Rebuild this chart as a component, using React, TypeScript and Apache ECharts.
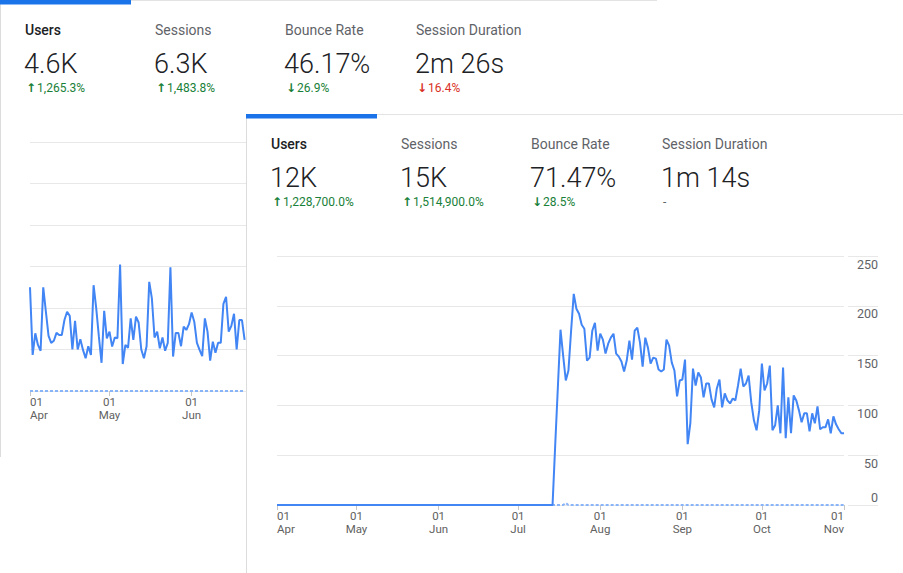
import React, { useEffect, useRef } from "react";
import * as echarts from "echarts";

// ---------- categories (daily, 01 Apr .. 01 Nov) ----------
const monthNames = ["Apr", "May", "Jun", "Jul", "Aug", "Sep", "Oct", "Nov"];
const monthLengths = [30, 31, 30, 31, 31, 30, 31, 1];
const dates: string[] = [];
monthNames.forEach((m, mi) => {
  for (let d = 1; d <= monthLengths[mi]; d++) {
    dates.push(`${d < 10 ? "0" + d : d} ${m}`);
  }
});

// ---------- back card (partially hidden) ----------
const backTitles = ["Users", "Sessions", "Bounce Rate", "Session Duration"];
const backValues = ["4.6K", "6.3K", "46.17%", "2m 26s"];
const backArrows = ["↑", "↑", "↓", "↓"];
const backChanges = ["1,265.3%", "1,483.8%", "26.9%", "16.4%"];
const backChangeKinds = ["good", "good", "good", "bad"];

// daily users, 01 Apr .. 21 Jun (rest is hidden behind the front card)
const backUsers = [
  25.0, 8.7, 13.9, 11.1, 9.7, 25.0, 19.1, 13.3, 11.6, 12.1,
  14.0, 13.5, 13.5, 17.1, 19.1, 18.1, 10.0, 16.9, 10.0, 12.5,
  9.9, 7.9, 10.8, 8.7, 25.5, 19.9, 13.1, 6.8, 19.3, 12.7,
  14.3, 10.7, 12.9, 12.7, 30.5, 6.5, 11.1, 10.4, 17.5, 12.3,
  17.9, 16.5, 10.0, 7.9, 10.8, 26.3, 22.3, 12.9, 14.3, 10.3,
  12.9, 9.7, 11.6, 29.8, 8.3, 14.0, 14.0, 10.8, 15.5, 14.7,
  16.1, 18.9, 16.7, 11.6, 9.9, 8.4, 17.5, 14.3, 7.3, 11.9,
  9.2, 11.6, 11.6, 21.0, 22.7, 14.3, 15.7, 18.6, 10.0, 17.1,
  17.1, 12.3,
];
const backPrevious = [
  0, 0, 0, 0, 0, 0, 0, 0, 0, 0, 0, 0, 0, 0, 0, 0, 0, 0, 0, 0,
  0, 0, 0, 0, 0, 0, 0, 0, 0, 0, 0, 0, 0, 0, 0, 0, 0, 0, 0, 0,
  0, 0, 0, 0, 0, 0, 0, 0, 0, 0, 0, 0, 0, 0, 0, 0, 0, 0, 0, 0,
  0, 0, 0, 0, 0, 0, 0, 0, 0, 0, 0, 0, 0, 0, 0, 0, 0, 0, 0, 0,
  0, 0,
];

// ---------- front card ----------
const frontTitles = ["Users", "Sessions", "Bounce Rate", "Session Duration"];
const frontValues = ["12K", "15K", "71.47%", "1m 14s"];
const frontArrows = ["↑", "↑", "↓", ""];
const frontChanges = ["1,228,700.0%", "1,514,900.0%", "28.5%", "-"];
const frontChangeKinds = ["good", "good", "good", "none"];

const frontYTicks = [0, 50, 100, 150, 200, 250];

const frontUsersBeforeLaunch = [
  0, 0, 0, 0, 0, 0, 0, 0, 0, 0, 0, 0, 0, 0, 0, 0, 0, 0, 0, 0,
  0, 0, 0, 0, 0, 0, 0, 0, 0, 0, 0, 0, 0, 0, 0, 0, 0, 0, 0, 0,
  0, 0, 0, 0, 0, 0, 0, 0, 0, 0, 0, 0, 0, 0, 0, 0, 0, 0, 0, 0,
  0, 0, 0, 0, 0, 0, 0, 0, 0, 0, 0, 0, 0, 0, 0, 0, 0, 0, 0, 0,
  0, 0, 0, 0, 0, 0, 0, 0, 0, 0, 0, 0, 0, 0, 0, 0, 0, 0, 0, 0,
  0, 0, 0, 0, 0,
];
const frontUsersAfterLaunch = [
  60, 118, 176, 150, 125, 135, 175, 212, 197, 192,
  181, 177, 145, 148, 175, 183, 155, 172, 166, 152,
  162, 168, 172, 152, 149, 144, 134, 145, 165, 146,
  175, 178, 163, 139, 168, 158, 142, 148, 147, 136,
  134, 136, 166, 160, 143, 135, 109, 125, 126, 146,
  61, 82, 137, 120, 133, 128, 108, 122, 122, 106,
  98, 117, 126, 98, 112, 105, 102, 107, 105, 120,
  137, 119, 122, 130, 103, 85, 75, 95, 142, 115,
  122, 140, 75, 80, 100, 72, 138, 67, 108, 72,
  110, 105, 95, 83, 92, 92, 74, 92, 82, 99,
  76, 78, 78, 86, 72, 89, 81, 76, 72, 72,
];
const frontUsers = [...frontUsersBeforeLaunch, ...frontUsersAfterLaunch];

const frontPrevious = [
  0, 0, 0, 0, 0, 0, 0, 0, 0, 0, 0, 0, 0, 0, 0, 0, 0, 0, 0, 0,
  0, 0, 0, 0, 0, 0, 0, 0, 0, 0, 0, 0, 0, 0, 0, 0, 0, 0, 0, 0,
  0, 0, 0, 0, 0, 0, 0, 0, 0, 0, 0, 0, 0, 0, 0, 0, 0, 0, 0, 0,
  0, 0, 0, 0, 0, 0, 0, 0, 0, 0, 0, 0, 0, 0, 0, 0, 0, 0, 0, 0,
  0, 0, 0, 0, 0, 0, 0, 0, 0, 0, 0, 0, 0, 0, 0, 0, 0, 0, 0, 0,
  0, 0, 0, 0, 0, 0, 0, 0, 0, 2, 0, 0, 0, 0, 0, 0, 0, 0, 0, 0,
  0, 0, 0, 0, 0, 0, 0, 0, 0, 0, 0, 0, 0, 0, 0, 0, 0, 0, 0, 0,
  0, 0, 0, 0, 0, 0, 0, 0, 0, 0, 0, 0, 0, 0, 0, 0, 0, 0, 0, 0,
  0, 0, 0, 0, 0, 0, 0, 0, 0, 0, 0, 0, 0, 0, 0, 0, 0, 0, 0, 0,
  0, 0, 0, 0, 0, 0, 0, 0, 0, 0, 0, 0, 0, 0, 0, 0, 0, 0, 0, 0,
  0, 0, 0, 0, 0, 0, 0, 0, 0, 0, 0, 0, 0, 0, 0,
];

// ---------- styling ----------
const FONT = "Roboto, 'Noto Sans', Arial, sans-serif";
const BLUE = "#4285f4";
const DASH_BLUE = "#8ab4f8";
const TAB_BLUE = "#1a73e8";
const GRID_COLOR = "#e8e8e8";
const LABEL_COLOR = "#616161";
const GREEN = "#188038";
const RED = "#d93025";
const COLS = [25, 155, 285, 416];

const isMonthStart = (_i: number, v: string) => v.startsWith("01 ");

function header(
  titles: string[],
  values: string[],
  arrows: string[],
  changes: string[],
  kinds: string[]
) {
  const els: any[] = [
    { type: "rect", shape: { x: 0, y: 0, width: 131, height: 4.5 }, style: { fill: TAB_BLUE }, silent: true },
  ];
  titles.forEach((t, i) => {
    const x = COLS[i];
    els.push({
      type: "text",
      x,
      y: 30,
      style: {
        text: t,
        fontFamily: FONT,
        fontSize: 14,
        fontWeight: i === 0 ? 500 : 400,
        fill: i === 0 ? "#202124" : "#5f6368",
        verticalAlign: "middle",
        align: "left",
      },
    });
    els.push({
      type: "text",
      x: x - 1,
      y: 64,
      style: {
        text: values[i],
        fontFamily: FONT,
        fontSize: 27,
        fontWeight: 300,
        fill: "#202124",
        verticalAlign: "middle",
        align: "left",
      },
    });
    const kind = kinds[i];
    const col = kind === "good" ? GREEN : kind === "bad" ? RED : "#5f6368";
    const arrowPart = arrows[i] ? `{a|${arrows[i]}}` : "";
    els.push({
      type: "text",
      x: x + 1,
      y: 88,
      style: {
        text: `${arrowPart}{t|${changes[i]}}`,
        fontFamily: FONT,
        fill: col,
        verticalAlign: "middle",
        align: "left",
        rich: {
          a: { fontFamily: "'DejaVu Sans', sans-serif", fontSize: 12, fontWeight: "bold", fill: col, padding: [0, 1, 0, 0] },
          t: { fontFamily: FONT, fontSize: 12, fill: col },
        },
      },
    });
  });
  return els;
}

function xAxisCommon(gridIndex: number) {
  return {
    type: "category",
    gridIndex,
    data: dates,
    boundaryGap: false,
    axisLine: { show: false },
    axisTick: { show: true, interval: isMonthStart, length: 5, lineStyle: { color: "#c6c6c6" } },
    axisLabel: {
      interval: isMonthStart,
      formatter: (v: string) => (v.startsWith("01 ") ? "01\n" + v.slice(3) : ""),
      color: LABEL_COLOR,
      fontFamily: FONT,
      fontSize: 11.5,
      lineHeight: 12.5,
      margin: 5,
      alignMinLabel: "left",
      alignMaxLabel: "right",
    },
    splitLine: { show: false },
  };
}

const backOption: any = {
  animation: false,
  graphic: header(backTitles, backValues, backArrows, backChanges, backChangeKinds),
  grid: { left: 30, top: 142, width: 567, height: 249 },
  xAxis: xAxisCommon(0),
  yAxis: {
    type: "value",
    min: 0,
    max: 60,
    interval: 10,
    axisLabel: { show: false },
    axisLine: { show: false },
    axisTick: { show: false },
    splitLine: { lineStyle: { color: GRID_COLOR, width: 1 } },
  },
  series: [
    {
      type: "line",
      data: backPrevious,
      symbol: "none",
      lineStyle: { color: DASH_BLUE, width: 2, type: [3, 2] },
      silent: true,
    },
    {
      type: "line",
      data: backUsers,
      symbol: "none",
      lineStyle: { color: BLUE, width: 2 },
      silent: true,
    },
  ],
};

const yLabelFormatter = (v: number) => (v === 0 ? `{up|0}` : `{dn|${v}}`);

const frontOption: any = {
  animation: false,
  graphic: header(frontTitles, frontValues, frontArrows, frontChanges, frontChangeKinds),
  grid: [
    { left: 31, top: 142, width: 567, height: 249 },
    { left: 602, top: 142, width: 30, height: 249 },
  ],
  xAxis: [
    xAxisCommon(0),
    { type: "value", gridIndex: 1, show: false, min: 0, max: 1 },
  ],
  yAxis: [
    {
      type: "value",
      gridIndex: 0,
      min: frontYTicks[0],
      max: frontYTicks[frontYTicks.length - 1],
      interval: 50,
      axisLabel: { show: false },
      axisLine: { show: false },
      axisTick: { show: false },
      splitLine: { lineStyle: { color: GRID_COLOR, width: 1 } },
    },
    {
      type: "value",
      gridIndex: 1,
      position: "right",
      min: frontYTicks[0],
      max: frontYTicks[frontYTicks.length - 1],
      interval: 50,
      axisLine: { show: false },
      axisTick: { show: false },
      splitLine: { lineStyle: { color: GRID_COLOR, width: 1 } },
      axisLabel: {
        inside: true,
        margin: 0,
        formatter: yLabelFormatter,
        rich: {
          up: { padding: [0, 0, 16, 0], fontSize: 12.5, color: "#5f6368", fontFamily: FONT },
          dn: { padding: [16, 0, 0, 0], fontSize: 12.5, color: "#5f6368", fontFamily: FONT },
        },
      },
    },
  ],
  series: [
    {
      type: "line",
      xAxisIndex: 0,
      yAxisIndex: 0,
      data: frontPrevious,
      symbol: "none",
      lineStyle: { color: DASH_BLUE, width: 2, type: [3, 2] },
      silent: true,
    },
    {
      type: "line",
      xAxisIndex: 0,
      yAxisIndex: 0,
      data: frontUsers,
      symbol: "none",
      lineStyle: { color: BLUE, width: 2 },
      silent: true,
    },
  ],
};

export default function App() {
  const backRef = useRef<HTMLDivElement>(null);
  const frontRef = useRef<HTMLDivElement>(null);

  useEffect(() => {
    const back = echarts.init(backRef.current!, null, { renderer: "svg" });
    back.setOption(backOption);
    const front = echarts.init(frontRef.current!, null, { renderer: "svg" });
    front.setOption(frontOption);
    return () => {
      back.dispose();
      front.dispose();
    };
  }, []);

  return (
    <div
      style={{
        position: "fixed",
        left: 0,
        top: 0,
        width: 903,
        height: 573,
        background: "#fff",
        overflow: "hidden",
      }}
    >
      <div
        style={{
          position: "absolute",
          left: 0,
          top: 0,
          width: 657,
          height: 457,
          background: "#fff",
          borderTop: "1px solid #e3e3e3",
          borderLeft: "1px solid #dcdcdc",
          boxSizing: "border-box",
          zIndex: 1,
        }}
      >
        <div ref={backRef} style={{ position: "absolute", left: -1, top: -1, width: 657, height: 457 }} />
      </div>
      <div
        style={{
          position: "absolute",
          left: 246,
          top: 114,
          width: 657,
          height: 459,
          background: "#fff",
          borderTop: "1px solid #e3e3e3",
          borderLeft: "1px solid #dcdcdc",
          boxSizing: "border-box",
          zIndex: 2,
        }}
      >
        <div ref={frontRef} style={{ position: "absolute", left: -1, top: -1, width: 657, height: 459 }} />
      </div>
    </div>
  );
}
